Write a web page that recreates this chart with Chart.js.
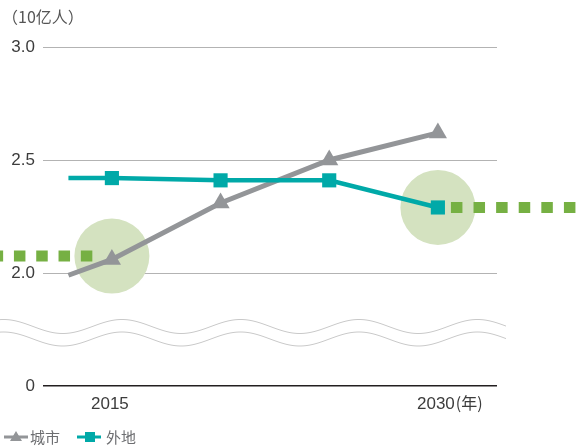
<!DOCTYPE html>
<html>
<head>
<meta charset="utf-8">
<script src="https://cdn.jsdelivr.net/npm/chart.js@4/dist/chart.umd.min.js"></script>
<style>
  html, body { margin: 0; padding: 0; background: #fff; }
  #wrap { width: 578px; height: 447px; position: relative; }
</style>
</head>
<body>
<div id="wrap"><canvas id="chart" width="578" height="447"></canvas></div>
<script>
// Years and values (billions of people)
const years = [2015, 2020, 2025, 2030];
const urban = [2.06, 2.31, 2.50, 2.62];
const rural = [2.42, 2.41, 2.41, 2.29];

// Both lines begin a little before 2015
const lineStartYear = 2013;
const urbanStart = 1.99;
const ruralStart = 2.42;

// Green dotted guides and their highlight circles
const leftGuide = [{ x: 2014.1, y: 2.075 }, { x: 2009.5, y: 2.075 }];
const rightGuide = [{ x: 2030.6, y: 2.29 }, { x: 2036.8, y: 2.29 }];
const highlights = [{ x: 2015, y: 2.075 }, { x: 2030, y: 2.29 }];

const yTicks = [1.5, 2.0, 2.5, 3.0];
const xTickLabels = [2015, 2030];
const unitLabel = '（10亿人）';
const yearSuffix = '(年)';
const seriesNames = ['城市', '外地'];

const GRAY = '#939598';
const TEAL = '#00a9a8';
const GREEN = '#76b043';
const CIRCLE = '#d4e2c0';
const TEXT = '#3c3c3c';

const latin = '"Liberation Sans", Arial, sans-serif';
const cjk = '"Noto Sans CJK SC", "Liberation Sans", sans-serif';

/**
 * Build points for a series, with the unmarked start point first
 */
function seriesPoints(startValue, values) {
  return [{ x: lineStartYear, y: startValue }].concat(
    years.map((yr, i) => ({ x: yr, y: values[i] }))
  );
}

// Wavy axis-break lines, labels, and legend
const decorPlugin = {
  id: 'decor',
  beforeDatasetsDraw(chart) {
    const { ctx } = chart;
    const yScale = chart.scales.y;
    // two wavy lines between 0 and 2.0
    const mid = (yScale.getPixelForValue(1.5) + yScale.getPixelForValue(2.0)) / 2 + 3;
    ctx.save();
    ctx.strokeStyle = '#c9c9c9';
    ctx.lineWidth = 1;
    [-6, 6.5].forEach((off) => {
      ctx.beginPath();
      for (let x = 0; x <= 506; x += 1) {
        const y = mid + off - 7 * Math.cos(((x - 122) / 118.5) * Math.PI * 2);
        if (x === 0) ctx.moveTo(x, y);
        else ctx.lineTo(x, y);
      }
      ctx.stroke();
    });
    ctx.restore();
  },
  afterDraw(chart) {
    const { ctx } = chart;
    const xScale = chart.scales.x;
    ctx.save();

    // unit label
    ctx.fillStyle = '#555';
    ctx.font = '16px ' + cjk;
    ctx.textAlign = 'left';
    ctx.textBaseline = 'middle';
    ctx.fillText(unitLabel, 2, 17);

    // x labels
    ctx.fillStyle = TEXT;
    xTickLabels.forEach((yr, i) => {
      const px = xScale.getPixelForValue(yr) - 2;
      ctx.font = '17px ' + latin;
      ctx.textAlign = 'center';
      ctx.fillText(String(yr), px, 404);
      if (i === xTickLabels.length - 1) {
        const w = ctx.measureText(String(yr)).width;
        ctx.font = '16px ' + cjk;
        ctx.textAlign = 'left';
        ctx.fillText(yearSuffix, px + w / 2 + 1, 403);
      }
    });

    // legend
    const ly = 437;
    ctx.font = '15px ' + cjk;
    ctx.textAlign = 'left';
    // urban
    ctx.strokeStyle = GRAY;
    ctx.lineWidth = 3;
    ctx.beginPath();
    ctx.moveTo(4, ly);
    ctx.lineTo(28, ly);
    ctx.stroke();
    ctx.fillStyle = GRAY;
    ctx.beginPath();
    ctx.moveTo(16, ly - 6);
    ctx.lineTo(22, ly + 4);
    ctx.lineTo(10, ly + 4);
    ctx.closePath();
    ctx.fill();
    ctx.fillStyle = '#6d6e71';
    ctx.fillText(seriesNames[0], 30, ly);
    // rural
    ctx.strokeStyle = TEAL;
    ctx.beginPath();
    ctx.moveTo(77, ly);
    ctx.lineTo(101, ly);
    ctx.stroke();
    ctx.fillStyle = TEAL;
    ctx.fillRect(85, ly - 5, 10, 10);
    ctx.fillStyle = '#6d6e71';
    ctx.fillText(seriesNames[1], 106, ly);

    ctx.restore();
  },
};

const ctx = document.getElementById('chart').getContext('2d');
new Chart(ctx, {
  type: 'line',
  data: {
    datasets: [
      {
        label: seriesNames[1],
        data: seriesPoints(ruralStart, rural),
        borderColor: TEAL,
        backgroundColor: TEAL,
        borderWidth: 4.5,
        pointStyle: 'rect',
        pointRadius: (c) => (c.dataIndex === 0 ? 0 : 10),
        pointBorderWidth: 0,
        tension: 0,
        order: 1,
      },
      {
        label: seriesNames[0],
        data: seriesPoints(urbanStart, urban),
        borderColor: GRAY,
        backgroundColor: GRAY,
        borderWidth: 5,
        pointStyle: 'triangle',
        pointRadius: (c) => (c.dataIndex === 0 ? 0 : 10.5),
        pointBorderWidth: 0,
        tension: 0,
        order: 2,
      },
      {
        label: 'guideLeft',
        data: leftGuide,
        borderColor: GREEN,
        borderWidth: 11,
        borderDash: [11.5, 10.8],
        borderCapStyle: 'butt',
        pointRadius: 0,
        clip: false,
        order: 3,
      },
      {
        label: 'guideRight',
        data: rightGuide,
        borderColor: GREEN,
        borderWidth: 11,
        borderDash: [11.5, 11.1],
        borderCapStyle: 'butt',
        pointRadius: 0,
        clip: false,
        order: 3,
      },
      {
        label: 'highlight',
        data: highlights,
        showLine: false,
        pointStyle: 'circle',
        pointRadius: 37.5,
        pointBackgroundColor: CIRCLE,
        pointBorderWidth: 0,
        clip: false,
        order: 4,
      },
    ],
  },
  options: {
    responsive: false,
    animation: false,
    events: [],
    layout: { padding: { top: 47, right: 81, bottom: 61, left: 0 } },
    plugins: {
      legend: { display: false },
      tooltip: { enabled: false },
    },
    scales: {
      x: {
        type: 'linear',
        min: 2011.83,
        max: 2032.72,
        display: false,
      },
      y: {
        type: 'linear',
        min: yTicks[0],
        max: yTicks[yTicks.length - 1],
        afterFit: (scale) => { scale.width = 43; },
        afterBuildTicks: (scale) => { scale.ticks = yTicks.map((v) => ({ value: v })); },
        border: { display: false },
        grid: {
          drawTicks: false,
          color: (c) => (c.tick && c.tick.value === 1.5 ? '#231f20' : '#b3b3b3'),
          lineWidth: (c) => (c.tick && c.tick.value === 1.5 ? 1.5 : 1),
        },
        ticks: {
          padding: 8,
          color: TEXT,
          font: { family: latin, size: 17 },
          callback: (v) => (v === 1.5 ? '0' : v.toFixed(1)),
        },
      },
    },
  },
  plugins: [decorPlugin],
});
</script>
</body>
</html>
